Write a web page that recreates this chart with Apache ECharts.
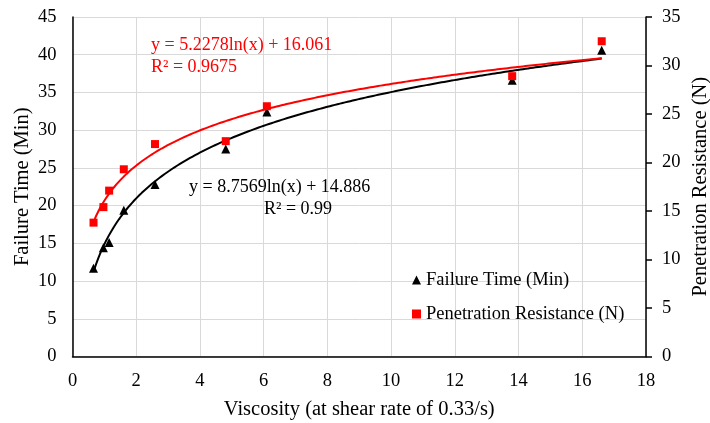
<!DOCTYPE html>
<html>
<head>
<meta charset="utf-8">
<script src="https://cdn.jsdelivr.net/npm/echarts@6/dist/echarts.min.js"></script>
<style>
  html, body { margin: 0; padding: 0; background: #fff; }
  #chart { width: 710px; height: 423px; }
</style>
</head>
<body>
<div id="chart"></div>
<script>
// Measured samples
const viscosity   = [0.66, 0.97, 1.15, 1.61, 2.59, 4.81, 6.10, 13.80, 16.61];
const failureTime = [11.7, 14.4, 15.1, 19.4, 22.8, 27.5, 32.4, 36.6, 40.6];
const penetration = [13.8, 15.4, 17.1, 19.3, 21.9, 22.2, 25.8, 28.9, 32.5];

// Logarithmic trendlines y = a·ln(x) + b
const failureFit     = { a: 8.7569, b: 14.886, r2: '0.99' };
const penetrationFit = { a: 5.2278, b: 16.061, r2: '0.9675' };

const FONT = '"Liberation Serif", "Times New Roman", serif';

function pairs(xs, ys) { return xs.map((x, i) => [x, ys[i]]); }
function logCurve(fit, x0, x1, n) {
  const pts = [];
  for (let i = 0; i <= n; i++) {
    const x = x0 + (x1 - x0) * i / n;
    pts.push([x, fit.a * Math.log(x) + fit.b]);
  }
  return pts;
}
const xMin = Math.min(...viscosity), xMax = Math.max(...viscosity);

const chart = echarts.init(document.getElementById('chart'));
chart.setOption({
  animation: false,
  backgroundColor: '#fff',
  textStyle: { fontFamily: FONT },
  grid: { left: 72.5, right: 64, top: 17, bottom: 66.5, containLabel: false, outerBoundsMode: 'none' },
  xAxis: {
    type: 'value', min: 0, max: 18, interval: 2,
    name: 'Viscosity (at shear rate of 0.33/s)',
    nameLocation: 'middle', nameGap: 43, nameMoveOverlap: false,
    nameTextStyle: { fontFamily: FONT, fontSize: 20.5, color: '#000' },
    axisLine: { show: true, onZero: false, lineStyle: { color: '#000', width: 1.5 } },
    axisTick: { show: false },
    axisLabel: { fontFamily: FONT, fontSize: 18.5, color: '#000', margin: 15 },
    splitLine: { show: true, lineStyle: { color: '#d9d9d9', width: 1 } }
  },
  yAxis: [{
    type: 'value', min: 0, max: 45, interval: 5,
    name: 'Failure Time (Min)',
    nameLocation: 'middle', nameGap: 39, nameRotate: 90, nameMoveOverlap: false,
    nameTextStyle: { fontFamily: FONT, fontSize: 20.5, color: '#000' },
    axisLine: { show: true, lineStyle: { color: '#000', width: 1.5 } },
    axisTick: { show: false },
    axisLabel: { fontFamily: FONT, fontSize: 18.5, color: '#000', margin: 16 },
    splitLine: { show: true, lineStyle: { color: '#d9d9d9', width: 1 } }
  }, {
    type: 'value', min: 0, max: 35, interval: 5, position: 'right',
    name: 'Penetration Resistance (N)',
    nameLocation: 'middle', nameGap: 44, nameRotate: 90, nameMoveOverlap: false,
    nameTextStyle: { fontFamily: FONT, fontSize: 20.5, color: '#000' },
    axisLine: { show: true, lineStyle: { color: '#000', width: 1.5 } },
    axisTick: { show: true, length: 6, lineStyle: { color: '#000', width: 1.5 } },
    axisLabel: { fontFamily: FONT, fontSize: 18.5, color: '#000', margin: 16 },
    splitLine: { show: false }
  }],
  legend: {
    orient: 'vertical', left: 407, top: 265,
    itemWidth: 9, itemHeight: 9, itemGap: 14,
    textStyle: { fontFamily: FONT, fontSize: 18.5, color: '#000', lineHeight: 20 },
    data: ['Failure Time (Min)', 'Penetration Resistance (N)']
  },
  series: [{
    name: 'Failure Time trend', type: 'line', yAxisIndex: 0,
    data: logCurve(failureFit, xMin, xMax, 200),
    showSymbol: false, smooth: false, silent: true, z: 2,
    lineStyle: { color: '#000', width: 2 }
  }, {
    name: 'Penetration Resistance trend', type: 'line', yAxisIndex: 1,
    data: logCurve(penetrationFit, xMin, xMax, 200),
    showSymbol: false, smooth: false, silent: true, z: 2,
    lineStyle: { color: '#ff0000', width: 2 }
  }, {
    name: 'Failure Time (Min)', type: 'scatter', yAxisIndex: 0,
    data: pairs(viscosity, failureTime),
    symbol: 'triangle', symbolSize: 9, z: 3,
    itemStyle: { color: '#000', opacity: 1 }
  }, {
    name: 'Penetration Resistance (N)', type: 'scatter', yAxisIndex: 1,
    data: pairs(viscosity, penetration),
    symbol: 'rect', symbolSize: 8, z: 4,
    itemStyle: { color: '#ff0000', opacity: 1 }
  }],
  graphic: [
    { type: 'text', left: 151, top: 36, z: 10,
      style: { text: 'y = ' + penetrationFit.a.toFixed(4) + 'ln(x) + ' + penetrationFit.b.toFixed(3),
               fill: '#ff0000', font: '18px ' + FONT } },
    { type: 'text', left: 151, top: 58, z: 10,
      style: { text: 'R² = ' + penetrationFit.r2, fill: '#ff0000', font: '18px ' + FONT } },
    { type: 'text', left: 189, top: 178, z: 10,
      style: { text: 'y = ' + failureFit.a.toFixed(4) + 'ln(x) + ' + failureFit.b.toFixed(3),
               fill: '#000', font: '18px ' + FONT } },
    { type: 'text', x: 298, y: 200, z: 10,
      style: { text: 'R² = ' + failureFit.r2, fill: '#000', font: '18px ' + FONT, align: 'center' } }
  ]
});
</script>
</body>
</html>
